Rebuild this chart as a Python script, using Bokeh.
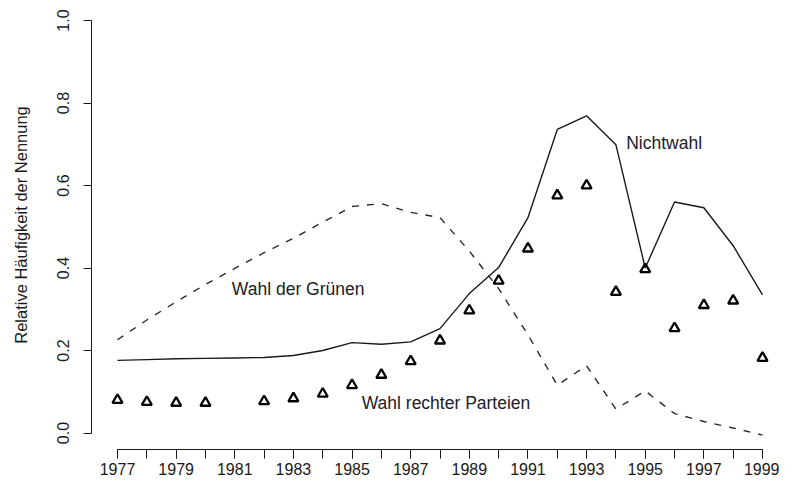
from bokeh.plotting import figure
from bokeh.models import FixedTicker, Range1d, PrintfTickFormatter
from bokeh.core.properties import value
from bokeh.embed import file_html
from bokeh.resources import INLINE

# ---- data ----
years = list(range(1977, 2000))
nichtwahl = [0.176, 0.178, 0.180, 0.181, 0.182, 0.183, 0.188, 0.200, 0.219, 0.215,
             0.221, 0.253, 0.338, 0.401, 0.522, 0.736, 0.769, 0.699, 0.400, 0.560,
             0.546, 0.454, 0.335]
gruene = [0.226, 0.274, 0.318, 0.360, 0.399, 0.437, 0.472, 0.511, 0.549, 0.556,
          0.535, 0.522, 0.441, 0.350, 0.238, 0.116, 0.163, 0.058, 0.102, 0.047,
          0.028, 0.012, -0.005]
rechts_years = [1977, 1978, 1979, 1980, 1982, 1983, 1984, 1985, 1986, 1987, 1988,
                1989, 1990, 1991, 1992, 1993, 1994, 1995, 1996, 1997, 1998, 1999]
rechts = [0.080, 0.075, 0.073, 0.073, 0.077, 0.084, 0.095, 0.116, 0.141, 0.174,
          0.224, 0.297, 0.369, 0.447, 0.576, 0.600, 0.342, 0.397, 0.254, 0.310,
          0.321, 0.182]

x_major_ticks = [1977, 1979, 1981, 1983, 1985, 1987, 1989, 1991, 1993, 1995, 1997, 1999]
y_ticks = [0.0, 0.2, 0.4, 0.6, 0.8, 1.0]

labels = ["Nichtwahl", "Wahl der Grünen", "Wahl rechter Parteien"]
label_x = [1994.35, 1980.9, 1985.33]
label_y = [0.704, 0.35, 0.0716]

FONT = "Liberation Sans"
INK = "#1a1a1a"

p = figure(width=779, height=480, output_backend="svg", toolbar_location=None,
           x_range=Range1d(1976.113, 1999.58), y_range=Range1d(-0.04, 1.0485),
           min_border_left=91, min_border_right=0, min_border_top=0,
           min_border_bottom=31)
p.outline_line_color = None
p.xgrid.visible = False
p.ygrid.visible = False
p.background_fill_color = "white"
p.border_fill_color = "white"

# x axis
xa = p.xaxis[0]
xa.ticker = FixedTicker(ticks=x_major_ticks, minor_ticks=years)
xa.bounds = (1977, 1999)
xa.major_tick_out = 9
xa.major_tick_in = 0
xa.minor_tick_out = 9
xa.minor_tick_in = 0
xa.major_label_standoff = 4
xa.axis_line_color = INK
xa.major_tick_line_color = INK
xa.minor_tick_line_color = INK
xa.major_label_text_font = FONT
xa.major_label_text_font_size = "16px"
xa.major_label_text_color = INK

# y axis
ya = p.yaxis[0]
ya.ticker = FixedTicker(ticks=y_ticks, minor_ticks=[])
ya.formatter = PrintfTickFormatter(format="%.1f")
ya.bounds = (0, 1)
ya.major_tick_out = 8
ya.major_tick_in = 0
ya.minor_tick_line_color = None
ya.axis_line_color = INK
ya.major_tick_line_color = INK
ya.major_label_orientation = "vertical"
ya.major_label_standoff = 14
ya.major_label_text_font = FONT
ya.major_label_text_font_size = "16px"
ya.major_label_text_color = INK
ya.axis_label = "Relative Häufigkeit der Nennung"
ya.axis_label_text_font = FONT
ya.axis_label_text_font_size = "16.5px"
ya.axis_label_text_font_style = "normal"
ya.axis_label_text_color = INK
ya.axis_label_standoff = 25

# series
p.line(years, nichtwahl, line_color=INK, line_width=1.4)
p.line(years, gruene, line_color="#2a2a2a", line_width=1.4, line_dash="7 8")
p.scatter(rechts_years, rechts, marker="triangle", size=10, fill_color=None,
          line_color="black", line_width=2.3)

p.text(x=label_x, y=label_y, text=labels, text_font=value(FONT),
       text_font_size="17.5px", text_align="left", text_baseline="middle",
       text_color="#202028")

open("out.html", "w").write(file_html(p, INLINE))
